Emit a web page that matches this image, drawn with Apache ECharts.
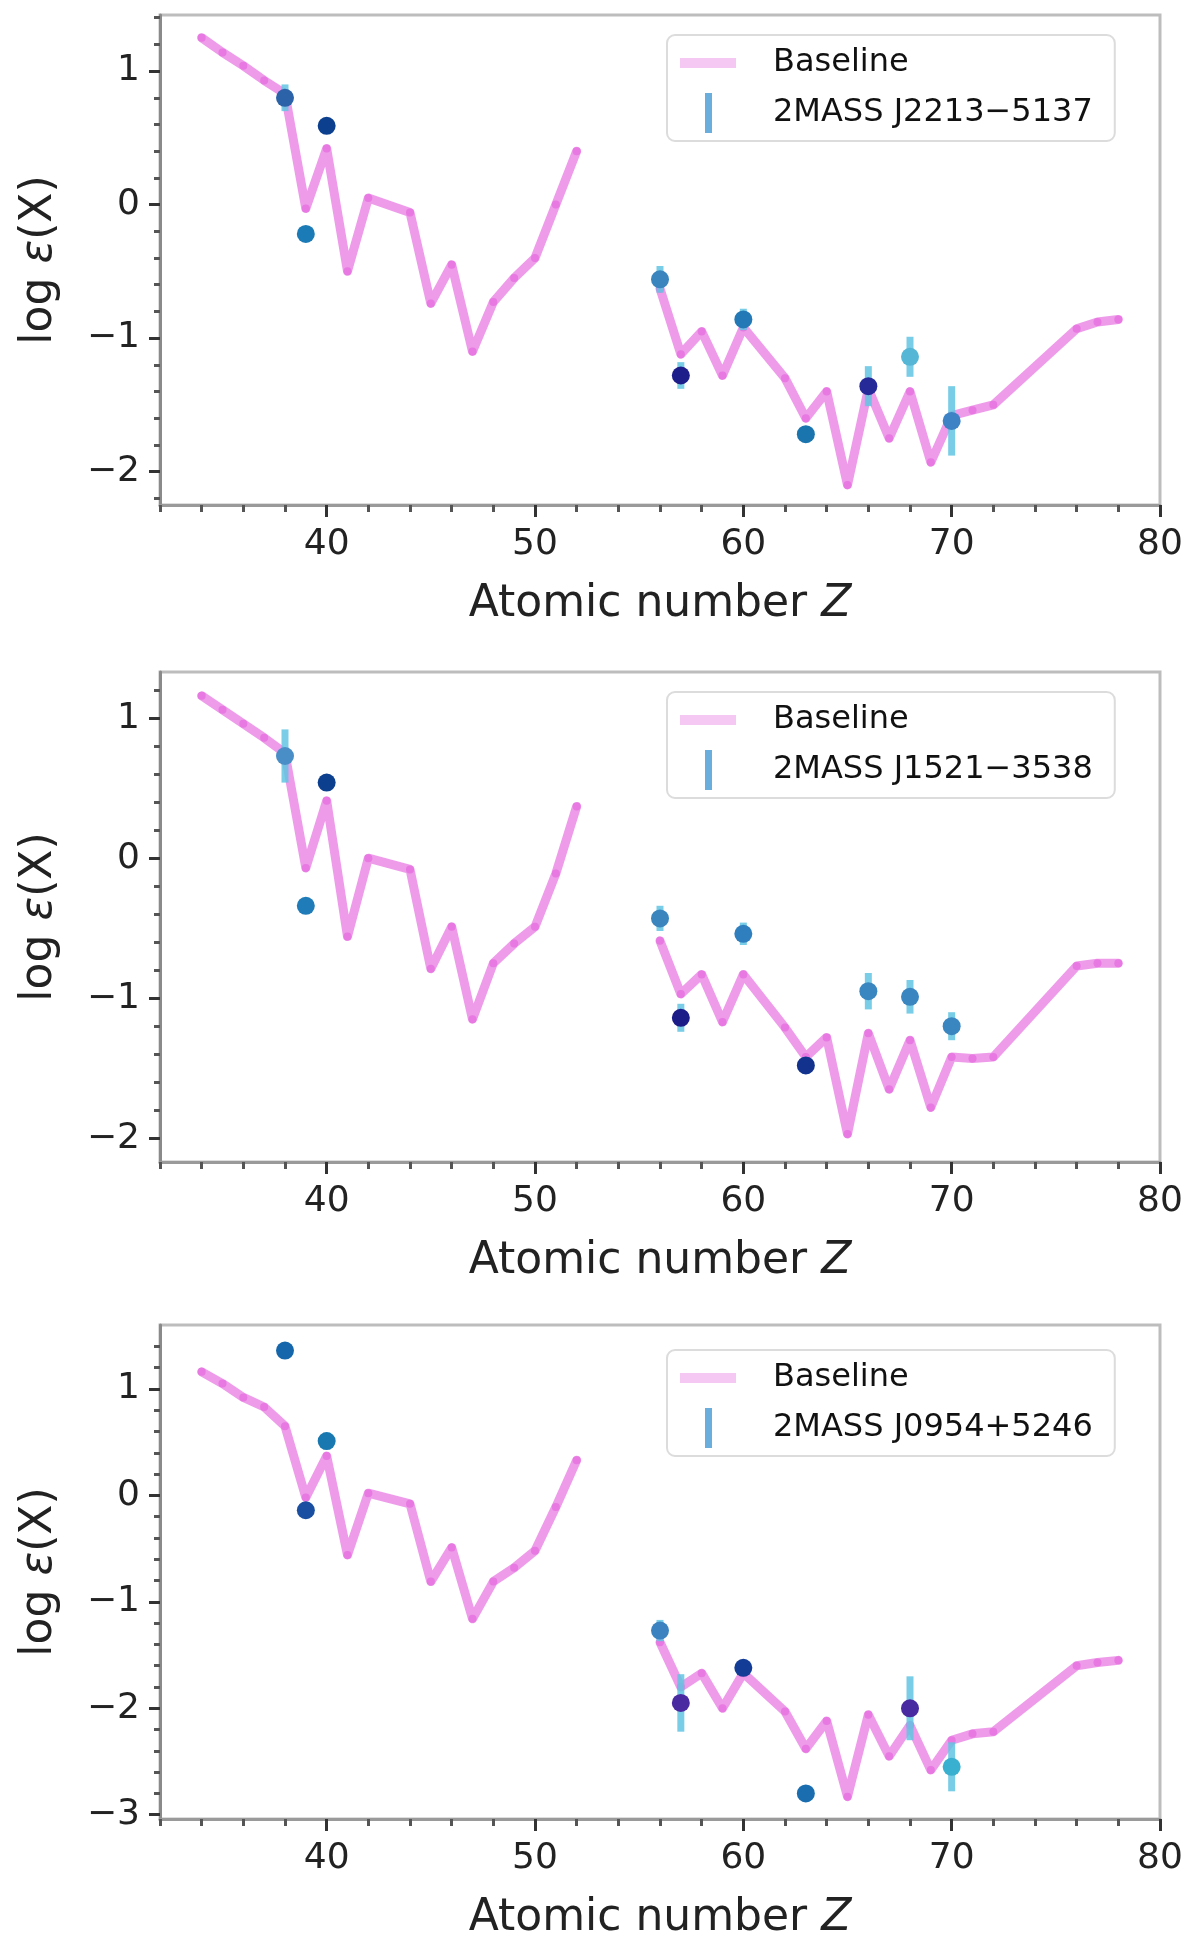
<!DOCTYPE html>
<html>
<head>
<meta charset="utf-8">
<script src="https://cdn.jsdelivr.net/npm/echarts@6/dist/echarts.min.js"></script>
<style>html,body{margin:0;padding:0;background:#fff}#c{width:1200px;height:1956px}</style>
</head>
<body>
<div id="c"></div>
<script>
// ---------- data ----------
const atomicZ = [34,35,36,37,38,39,40,41,42,44,45,46,47,48,49,50,51,52,54,56,57,58,59,60,62,63,64,65,66,67,68,69,70,71,72,76,77,78];
const baseline1 = [1.25,1.14,1.04,0.93,0.83,-0.03,0.42,-0.50,0.05,-0.06,-0.74,-0.45,-1.10,-0.73,-0.55,-0.40,0.00,0.40,null,-0.63,-1.12,-0.95,-1.28,-0.92,-1.30,-1.60,-1.40,-2.10,-1.38,-1.75,-1.40,-1.93,-1.58,-1.54,-1.50,-0.93,-0.88,-0.86];
const baseline2 = [1.16,1.06,0.96,0.86,0.75,-0.07,0.41,-0.56,0.00,-0.08,-0.79,-0.49,-1.15,-0.75,-0.61,-0.49,-0.11,0.37,null,-0.59,-0.97,-0.83,-1.17,-0.83,-1.21,-1.42,-1.28,-1.97,-1.25,-1.65,-1.30,-1.78,-1.42,-1.43,-1.42,-0.77,-0.75,-0.75];
const baseline3 = [1.16,1.05,0.92,0.83,0.65,-0.02,0.37,-0.56,0.02,-0.08,-0.81,-0.49,-1.16,-0.81,-0.68,-0.52,-0.11,0.33,null,-1.38,-1.80,-1.67,-2.00,-1.67,-2.03,-2.38,-2.12,-2.83,-2.06,-2.45,-2.16,-2.58,-2.30,-2.24,-2.22,-1.60,-1.57,-1.55];

const starZ1 = [38,39,40,56,57,60,63,66,68,70];
const starY1 = [0.80,-0.22,0.59,-0.56,-1.28,-0.86,-1.72,-1.36,-1.14,-1.62];
const starErr1 = [0.10,0.05,0.05,0.10,0.10,0.08,0.06,0.15,0.15,0.26];

const starZ2 = [38,39,40,56,57,60,63,66,68,70];
const starY2 = [0.73,-0.34,0.54,-0.43,-1.14,-0.54,-1.48,-0.95,-0.99,-1.20];
const starErr2 = [0.19,0.05,0.05,0.09,0.10,0.08,0.06,0.13,0.12,0.10];

const starZ3 = [38,39,40,56,57,60,63,68,70];
const starY3 = [1.36,-0.14,0.51,-1.27,-1.95,-1.62,-2.80,-2.00,-2.55];
const starErr3 = [0.05,0.06,0.08,0.10,0.27,0.06,0.05,0.30,0.23];

const seriesNames = ['2MASS J2213\u22125137', '2MASS J1521\u22123538', '2MASS J0954+5246'];

const xMajorTicks = [40,50,60,70,80];
const xMinorTicks = [32,34,36,38,42,44,46,48,52,54,56,58,62,64,66,68,72,74,76,78];
const yMajorTicks12 = [-2,-1,0,1];
const yMajorTicks3 = [-3,-2,-1,0,1];
const yMinorTicks12 = [-2.2,-1.8,-1.6,-1.4,-1.2,-0.8,-0.6,-0.4,-0.2,0.2,0.4,0.6,0.8,1.2,1.4];
const yMinorTicks3 = [-2.8,-2.6,-2.4,-2.2,-1.8,-1.6,-1.4,-1.2,-0.8,-0.6,-0.4,-0.2,0.2,0.4,0.6,0.8,1.2,1.4];

// ---------- styles ----------
const starColors = [
  ['#2b62a8','#1b7bb6','#0c3f8e','#3a85be','#1e1e8a','#2379b5','#1a74ae','#262a98','#55b6d6','#3c82c4'],
  ['#4a8ec8','#1f7cb8','#0c3f8e','#3a85be','#1c1c88','#2f7fbf','#12328e','#3a86c0','#3a86c0','#3a86c0'],
  ['#1566aa','#1a4ea0','#1a78b0','#3a82c0','#4a2aa0','#123c96','#1a6eb0','#4a2aa0','#3ab0d0']
];
const panels = [
  {top: 15, height: 490, ymin: -2.25, ymax: 1.42, base: baseline1, sz: starZ1, sy: starY1, se: starErr1, major: yMajorTicks12, minor: yMinorTicks12, legTop: 35},
  {top: 672, height: 490, ymin: -2.17, ymax: 1.33, base: baseline2, sz: starZ2, sy: starY2, se: starErr2, major: yMajorTicks12, minor: yMinorTicks12, legTop: 692},
  {top: 1325, height: 494, ymin: -3.04, ymax: 1.60, base: baseline3, sz: starZ3, sy: starY3, se: starErr3, major: yMajorTicks3, minor: yMinorTicks3, legTop: 1350}
];
const FONT = 'DejaVu Sans';
const minus = v => String(v).replace('-', '\u2212');

const grid = [], xAxis = [], yAxis = [], series = [], legend = [];
panels.forEach((p, i) => {
  grid.push({left: 160, width: 1000, top: p.top, height: p.height, show: true, borderColor: '#bdbdbd', borderWidth: 3, backgroundColor: '#fff'});
  xAxis.push({
    gridIndex: i, type: 'value', min: 32, max: 80, position: 'bottom',
    axisLine: {show: true, onZero: false, lineStyle: {color: '#9a9a9a', width: 3}},
    axisTick: {show: true, customValues: xMajorTicks, length: 12, lineStyle: {color: '#333', width: 3}},
    axisLabel: {show: true, customValues: xMajorTicks, margin: 22, fontSize: 36, fontFamily: FONT, color: '#222'},
    splitLine: {show: false},
    name: 'Atomic number {i|Z}', nameLocation: 'middle', nameGap: 78,
    nameTextStyle: {fontSize: 44, fontFamily: FONT, color: '#222', rich: {i: {fontSize: 44, fontFamily: FONT, fontStyle: 'italic', color: '#222'}}}
  });
  xAxis.push({
    gridIndex: i, type: 'value', min: 32, max: 80, position: 'bottom',
    axisLine: {show: false, onZero: false},
    axisTick: {show: true, customValues: xMinorTicks, length: 7, lineStyle: {color: '#555', width: 3}},
    axisLabel: {show: false}, splitLine: {show: false}
  });
  yAxis.push({
    gridIndex: i, type: 'value', min: p.ymin, max: p.ymax, position: 'left',
    axisLine: {show: true, onZero: false, lineStyle: {color: '#8a8a8a', width: 3}},
    axisTick: {show: true, customValues: p.major, length: 11, lineStyle: {color: '#333', width: 3}},
    axisLabel: {show: true, customValues: p.major, margin: 20, fontSize: 36, fontFamily: FONT, color: '#222', formatter: minus},
    splitLine: {show: false},
    name: 'log {i|\u03b5}(X)', nameLocation: 'middle', nameGap: 98, nameRotate: 90,
    nameTextStyle: {fontSize: 44, fontFamily: FONT, color: '#222', rich: {i: {fontSize: 44, fontFamily: FONT, fontStyle: 'italic', color: '#222'}}}
  });
  yAxis.push({
    gridIndex: i, type: 'value', min: p.ymin, max: p.ymax, position: 'left',
    axisLine: {show: false, onZero: false},
    axisTick: {show: true, customValues: p.minor, length: 6, lineStyle: {color: '#555', width: 3}},
    axisLabel: {show: false}, splitLine: {show: false}
  });
  series.push({
    type: 'line', name: 'Baseline', xAxisIndex: 2 * i, yAxisIndex: 2 * i,
    data: atomicZ.map((z, k) => [z, p.base[k]]),
    connectNulls: false, smooth: false,
    lineStyle: {color: '#ec90e8', width: 9, cap: 'round', join: 'round', opacity: 0.9},
    showSymbol: true, symbol: 'circle', symbolSize: 8,
    itemStyle: {color: '#e255da', opacity: 0.5, borderWidth: 0},
    z: 2, animation: false, silent: true
  });
  const cols = starColors[i];
  series.push({
    type: 'custom', name: seriesNames[i], xAxisIndex: 2 * i, yAxisIndex: 2 * i,
    data: p.sz.map((z, k) => [z, p.sy[k], p.se[k]]),
    encode: {x: 0, y: 1},
    itemStyle: {color: '#6aaede'},
    renderItem: function (params, api) {
      const z = api.value(0), y = api.value(1), e = api.value(2);
      const c = api.coord([z, y]);
      const t = api.coord([z, y + e]);
      const b = api.coord([z, y - e]);
      return {type: 'group', children: [
        {type: 'line', shape: {x1: c[0], y1: t[1], x2: c[0], y2: b[1]}, style: {stroke: '#62c4e2', lineWidth: 7, opacity: 0.85, lineCap: 'butt'}},
        {type: 'circle', shape: {cx: c[0], cy: c[1], r: 9}, style: {fill: cols[params.dataIndex]}}
      ]};
    },
    z: 3, animation: false, silent: true
  });
  legend.push({
    left: 667, top: p.legTop, orient: 'vertical',
    itemWidth: 93, itemHeight: 40, itemGap: 10,
    padding: [8, 22, 8, 8],
    borderColor: '#dcdcdc', borderWidth: 2, borderRadius: 8,
    backgroundColor: 'rgba(255,255,255,0.85)',
    textStyle: {fontSize: 32, fontFamily: FONT, color: '#111'},
    selectedMode: false,
    data: [
      {name: 'Baseline', icon: 'path://M0,0L0.01,0M93,40L92.99,40M5,15h56v10h-56z', itemStyle: {color: '#ec90e8'}},
      {name: seriesNames[i], icon: 'path://M0,0L0.01,0M93,40L92.99,40M30,0h7v40h-7z', itemStyle: {color: '#6aaede'}}
    ]
  });
});

const chart = echarts.init(document.getElementById('c'), null, {renderer: 'canvas'});
chart.setOption({backgroundColor: '#ffffff', animation: false, grid, xAxis, yAxis, series, legend});
</script>
</body>
</html>
